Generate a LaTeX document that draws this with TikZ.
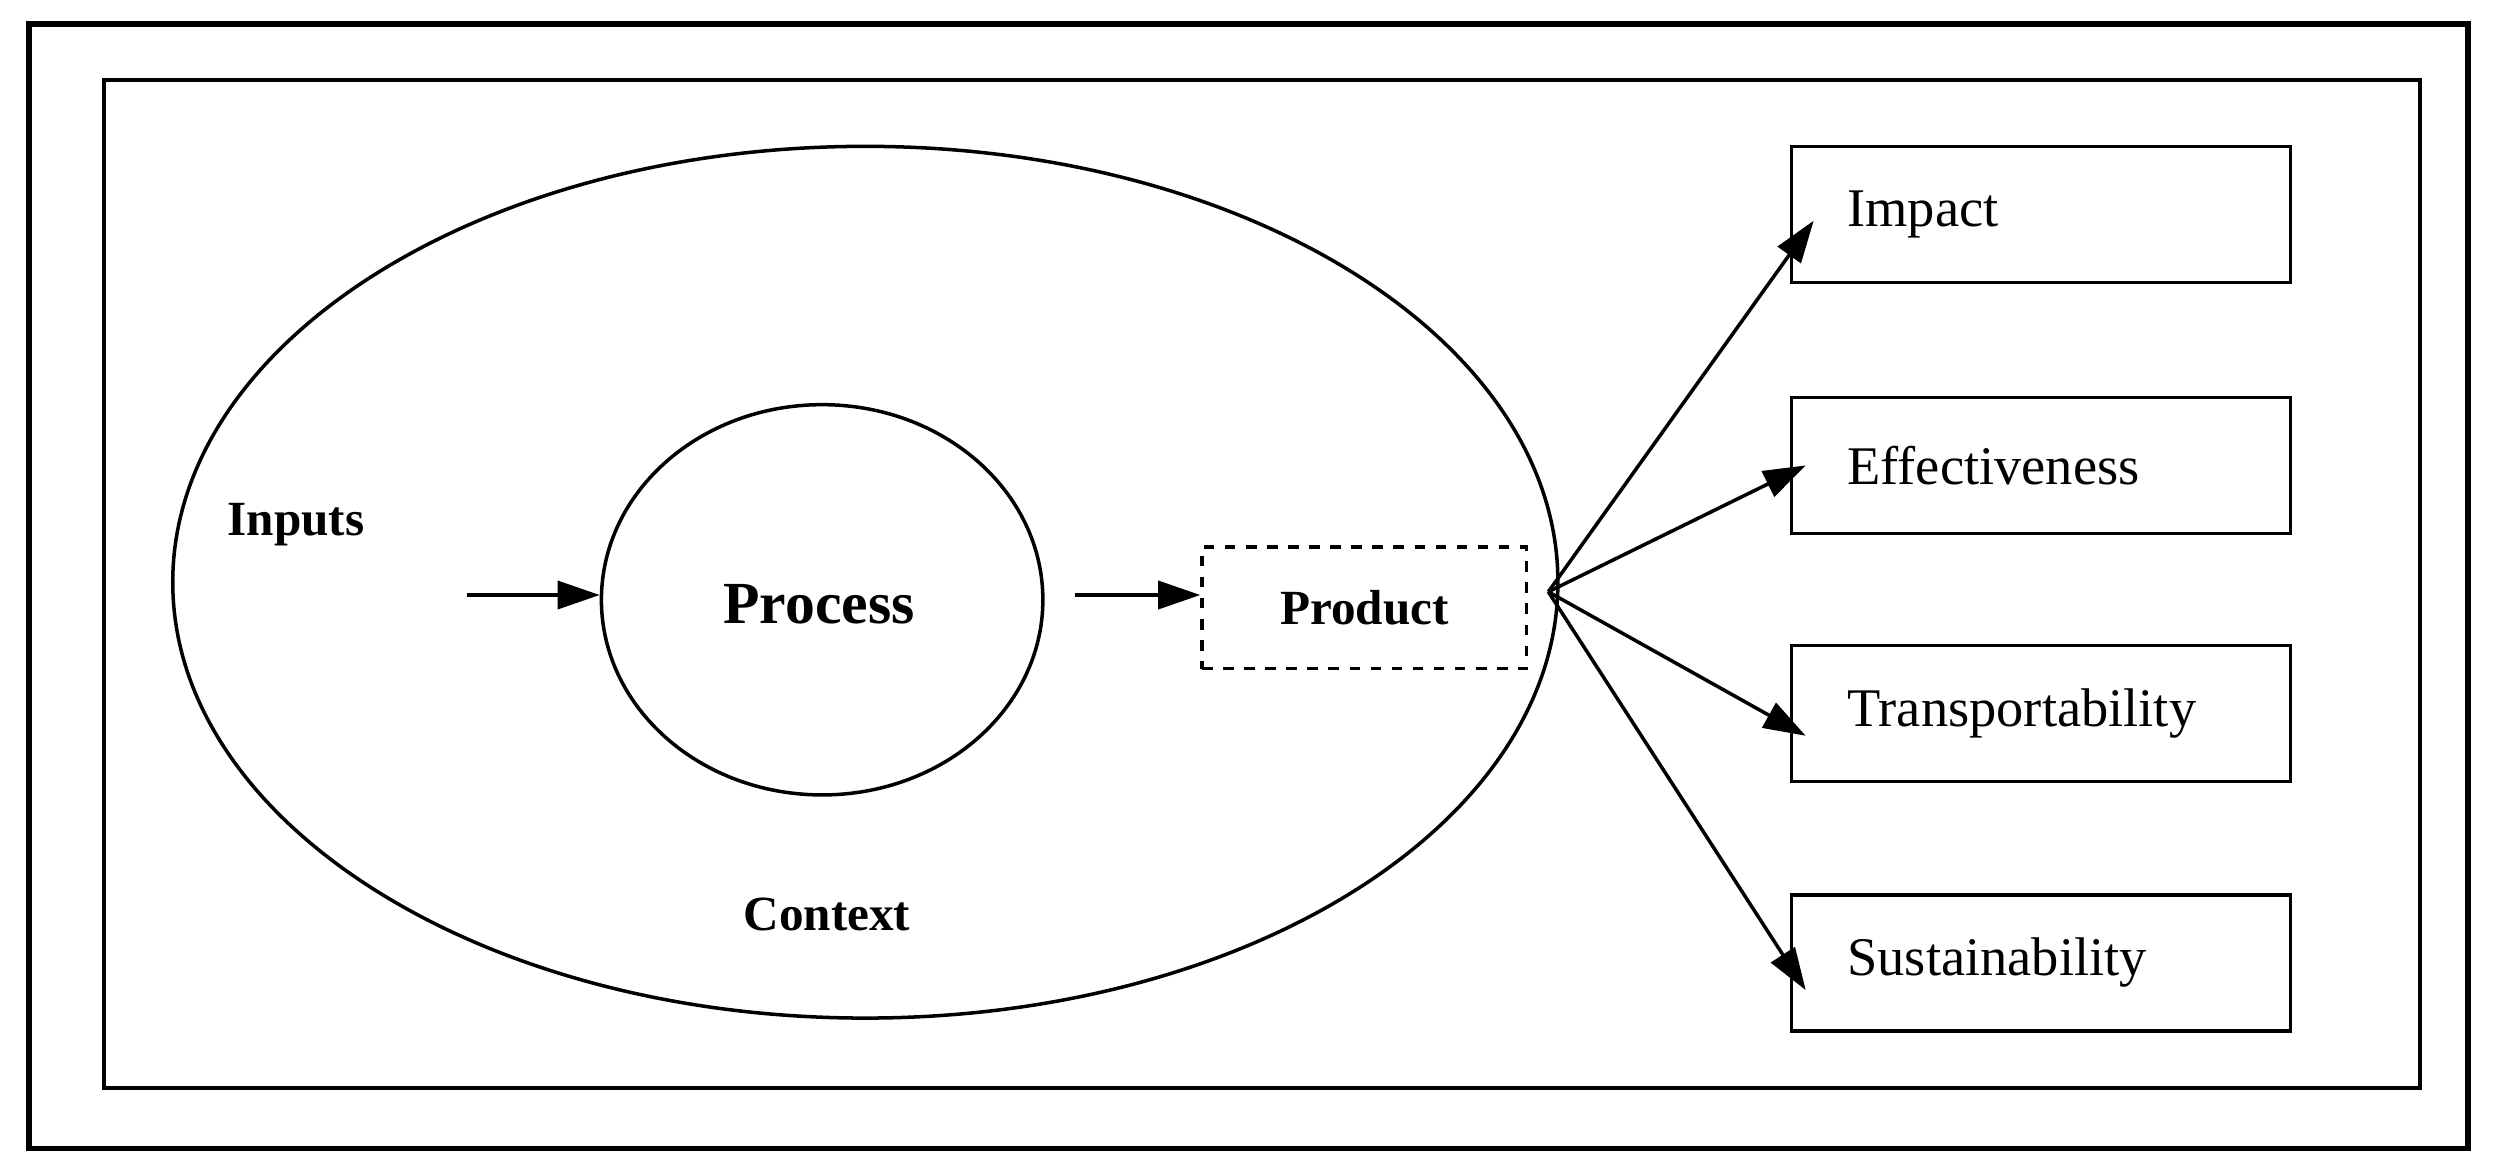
\documentclass[tikz,border=0pt]{standalone}
\usepackage{fontspec}
\setmainfont{Liberation Serif}
\usetikzlibrary{arrows.meta,shapes.geometric}
\begin{document}
\begin{tikzpicture}[x=0.016cm,y=-0.016cm,
  arr/.style={-{Triangle[length=12pt,width=8pt]},line width=1pt},
  box/.style={draw,line width=1pt,minimum width=312*0.016cm,minimum height=85*0.016cm,text width=242*0.016cm,align=left,font=\fontsize{15.5}{18}\selectfont},
  lbl/.style={font=\bfseries\fontsize{14}{17}\selectfont}]
\useasboundingbox (0,0) rectangle (1563,731);
\draw[line width=1.6pt] (18,15) rectangle (1543,718);
\draw[line width=1.2pt] (65,50) rectangle (1513,680);
\node[draw,ellipse,line width=1pt,minimum width=866*0.016cm,minimum height=545*0.016cm] (ctx) at (541,364) {};
\node[draw,ellipse,line width=1pt,minimum width=276*0.016cm,minimum height=244*0.016cm] (proc) at (514,375) {};
\node[font=\bfseries\fontsize{17}{20}\selectfont] (ptext) at (512,378) {Process};
\node[lbl] (inputs) at (185,328) {Inputs};
\node[lbl] (context) at (517,572) {Context};
\node[draw,dashed,line width=1pt,minimum width=203*0.016cm,minimum height=76*0.016cm,lbl] (prod) at (853,380) {Product};
\coordinate (in0) at (292,372);
\draw[arr] (in0) -- (proc.west|-in0);
\coordinate (p0) at (672,372);
\draw[arr] (p0) -- (prod.west|-p0);
\coordinate (fan) at (968,370);
\node[box] (imp) at (1276,134) {Impact};
\node[box] (eff) at (1276,291) {Effectiveness};
\node[box] (tra) at (1276,446) {Transportability};
\node[box] (sus) at (1276,602) {Sustainability};
\draw[arr] (fan) -- ([xshift=15*0.016cm,yshift=-4*0.016cm]imp.west);
\draw[arr] (fan) -- ([xshift=10*0.016cm]eff.west);
\draw[arr] (fan) -- ([xshift=10*0.016cm,yshift=-14*0.016cm]tra.west);
\draw[arr] (fan) -- ([xshift=10*0.016cm,yshift=-17*0.016cm]sus.west);
\end{tikzpicture}
\end{document}
